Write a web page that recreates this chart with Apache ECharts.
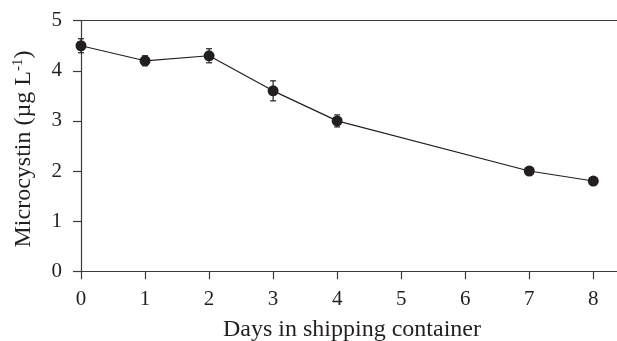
<!DOCTYPE html>
<html><head><meta charset="utf-8">
<script src="https://cdn.jsdelivr.net/npm/echarts@6/dist/echarts.min.js"></script>
<style>html,body{margin:0;padding:0;background:#fff}#c{width:617px;height:341px}</style>
</head><body><div id="c"></div>
<script>
const days = [0, 1, 2, 3, 4, 7, 8];
const microcystin = [4.5, 4.2, 4.3, 3.6, 3.0, 2.0, 1.8];
const stdErr = [0.14, 0.1, 0.14, 0.2, 0.12, 0.05, 0.05];
const xTicks = [0, 1, 2, 3, 4, 5, 6, 7, 8];
const yTicks = [0, 1, 2, 3, 4, 5];
const xTitle = 'Days in shipping container';
const yTitle = 'Microcystin (µg L';

const ink = '#231f20';
const axisCol = '#3a3a3a';
const font = 'Liberation Serif';

const chart = echarts.init(document.getElementById('c'), null, {renderer: 'canvas'});
const pts = days.map((d, i) => [d, microcystin[i]]);
const errs = days.map((d, i) => [d, microcystin[i] - stdErr[i], microcystin[i] + stdErr[i]]);

chart.setOption({
  animation: false,
  grid: {left: 81, top: 20.7, right: 0, bottom: 69.8},
  xAxis: [{
    type: 'value', min: 0, max: 8.37, interval: 1,
    axisLine: {show: true, lineStyle: {color: axisCol, width: 1.2}},
    axisTick: {show: true, inside: false, length: 8, lineStyle: {color: axisCol, width: 1.2},
      customValues: xTicks},
    axisLabel: {color: ink, fontFamily: font, fontSize: 21, margin: 18, customValues: xTicks},
    splitLine: {show: false}
  }, {
    type: 'value', position: 'top', min: 0, max: 8.37,
    axisLine: {show: true, lineStyle: {color: axisCol, width: 1.2}},
    axisTick: {show: false}, axisLabel: {show: false}, splitLine: {show: false}
  }],
  yAxis: {
    type: 'value', min: 0, max: 5, interval: 1,
    axisLine: {show: true, lineStyle: {color: axisCol, width: 1.2}},
    axisTick: {show: true, inside: false, length: 8, lineStyle: {color: axisCol, width: 1.2}},
    axisLabel: {color: ink, fontFamily: font, fontSize: 21, margin: 19, customValues: yTicks},
    splitLine: {show: false}
  },
  graphic: [{
    type: 'text', x: 352, y: 330,
    style: {text: xTitle, font: '24px "Liberation Serif"', fill: ink, align: 'center', verticalAlign: 'middle'}
  }, {
    type: 'text', rotation: Math.PI / 2, x: 24, y: 149,
    style: {
      text: yTitle + '{sup|-1}' + ')',
      font: '24px "Liberation Serif"', fill: ink, align: 'center', verticalAlign: 'middle',
      rich: {sup: {fontSize: 15, fontFamily: font, fill: ink, verticalAlign: 'top', padding: [0, 0, 12, 0]}}
    }
  }],
  series: [{
    type: 'custom',
    data: errs,
    z: 2,
    renderItem: function (params, api) {
      const x = api.value(0);
      const lo = api.coord([x, api.value(1)]);
      const hi = api.coord([x, api.value(2)]);
      const w = 3;
      const st = {stroke: ink, lineWidth: 1.2};
      return {type: 'group', children: [
        {type: 'line', shape: {x1: lo[0], y1: lo[1], x2: hi[0], y2: hi[1]}, style: st},
        {type: 'line', shape: {x1: lo[0] - w, y1: lo[1], x2: lo[0] + w, y2: lo[1]}, style: st},
        {type: 'line', shape: {x1: hi[0] - w, y1: hi[1], x2: hi[0] + w, y2: hi[1]}, style: st}
      ]};
    }
  }, {
    type: 'line',
    data: pts,
    z: 3,
    symbol: 'circle', symbolSize: 11,
    lineStyle: {color: ink, width: 1.2},
    itemStyle: {color: ink, borderWidth: 0}
  }]
});
</script>
</body></html>
